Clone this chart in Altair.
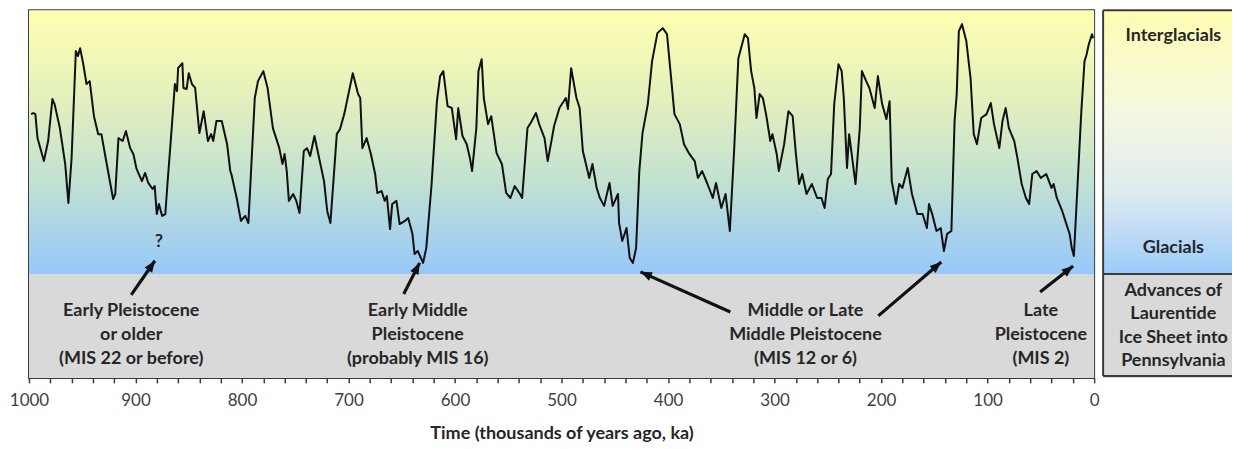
import math
import altair as alt
import pandas as pd

# ---- climate curve (time in ka, relative climate index: 0 = glacial edge, 100 = top) ----
time_ka = [
    998, 996, 994, 992, 986, 982, 978, 976, 971, 966,
    963, 960, 956, 954, 952, 949, 946, 943, 939, 935,
    932, 927, 921, 919, 916, 912, 909, 905, 902, 899,
    894, 891, 888, 884, 882, 880, 878, 875, 872, 870,
    866, 863, 861, 860, 856, 855, 852, 850, 847, 844,
    840, 836, 832, 829, 827, 824, 819, 814, 811, 810,
    805, 801, 797, 794, 788, 785, 780, 776, 771, 765,
    762, 760, 758, 756, 752, 749, 746, 742, 739, 736,
    732, 729, 723, 720, 717, 711, 708, 704, 696, 691,
    689, 687, 683, 679, 675, 673, 669, 666, 664, 661,
    659, 655, 652, 647, 644, 640, 638, 635, 630, 627,
    622, 617, 614, 611, 607, 603, 599, 597, 593, 589,
    586, 584, 580, 578, 575, 573, 569, 566, 561, 556,
    552, 548, 544, 539, 537, 532, 529, 524, 521, 516,
    513, 509, 507, 502, 496, 494, 491, 486, 483, 480,
    474, 471, 467, 464, 460, 455, 452, 447, 446, 443,
    439, 436, 433, 430, 427, 424, 419, 415, 410, 405,
    401, 398, 394, 389, 385, 380, 375, 372, 368, 363,
    358, 355, 350, 346, 342, 338, 334, 328, 325, 322,
    319, 317, 314, 311, 308, 304, 302, 298, 296, 291,
    287, 283, 280, 277, 274, 270, 265, 260, 256, 253,
    250, 247, 244, 240, 237, 235, 232, 230, 224, 220,
    218, 214, 211, 206, 203, 199, 195, 192, 190, 186,
    183, 180, 175, 171, 166, 161, 157, 155, 152, 148,
    144, 141, 138, 134, 131, 129, 127, 124, 120, 116,
    113, 110, 106, 101, 97, 94, 89, 86, 83, 80,
    75, 72, 68, 64, 61, 58, 54, 50, 45, 40,
    38, 35, 30, 26, 23, 21, 19, 16, 12, 9,
    7, 5, 2, 1,
]
climate_index = [
    60.6, 61.0, 60.6, 51.5, 42.8, 50.4, 66.3, 64.4, 55.3, 41.7,
    26.9, 43.9, 84.5, 82.6, 85.6, 79.5, 72.0, 73.1, 59.8, 53.0,
    53.0, 41.7, 28.4, 30.3, 51.5, 50.4, 54.2, 47.7, 45.5, 39.8,
    35.2, 38.3, 34.5, 32.2, 33.3, 22.7, 26.5, 22.0, 22.7, 34.1,
    55.3, 72.0, 69.3, 78.0, 79.9, 70.5, 70.1, 76.1, 72.0, 70.5,
    53.4, 61.7, 50.4, 53.0, 50.4, 58.0, 58.0, 49.2, 39.0, 37.9,
    28.8, 20.1, 22.0, 19.3, 66.7, 73.1, 76.9, 70.5, 55.3, 47.7,
    41.7, 45.5, 39.0, 27.7, 30.3, 27.7, 23.1, 46.6, 47.7, 44.7,
    52.3, 46.6, 35.2, 23.9, 19.3, 53.0, 54.9, 60.6, 76.1, 68.2,
    66.7, 47.7, 51.5, 45.5, 37.9, 30.7, 31.4, 27.7, 29.5, 17.0,
    26.5, 27.7, 18.9, 20.1, 21.2, 15.2, 7.6, 8.7, 4.2, 9.8,
    34.1, 65.5, 75.0, 76.9, 63.6, 62.9, 51.1, 62.9, 52.3, 49.2,
    43.9, 39.0, 55.3, 76.9, 81.4, 66.7, 56.8, 59.8, 45.8, 41.7,
    30.7, 28.8, 33.3, 30.3, 28.8, 55.3, 57.2, 61.0, 56.8, 51.5,
    42.8, 51.5, 56.1, 62.9, 66.7, 62.5, 78.0, 66.7, 62.9, 46.6,
    36.4, 41.7, 32.6, 28.8, 25.8, 34.5, 25.8, 30.3, 19.3, 12.5,
    17.4, 6.1, 4.2, 9.8, 39.0, 53.4, 64.4, 80.7, 91.3, 93.2,
    90.9, 78.0, 60.6, 56.8, 49.2, 45.5, 42.8, 36.4, 39.0, 34.1,
    28.8, 34.5, 25.0, 30.3, 16.3, 46.6, 81.8, 90.9, 89.4, 76.9,
    70.5, 59.1, 68.2, 66.7, 60.6, 50.4, 53.0, 45.5, 39.0, 49.2,
    61.7, 59.8, 45.5, 34.1, 37.9, 30.3, 34.1, 28.8, 28.8, 25.0,
    36.0, 37.9, 64.4, 79.5, 76.9, 66.7, 40.2, 53.0, 34.1, 55.3,
    76.9, 73.1, 70.5, 62.9, 75.0, 64.4, 58.7, 65.5, 35.2, 26.5,
    34.1, 32.6, 40.2, 30.3, 22.7, 22.7, 17.4, 26.5, 22.7, 16.3,
    17.4, 8.7, 15.2, 16.3, 58.0, 68.2, 92.0, 94.7, 88.3, 74.2,
    53.0, 49.2, 59.1, 60.6, 64.8, 56.8, 47.7, 58.0, 62.9, 55.3,
    50.4, 43.9, 34.1, 28.8, 26.5, 37.9, 39.0, 36.4, 37.9, 32.6,
    34.1, 28.8, 23.9, 18.9, 15.2, 9.8, 6.8, 30.3, 61.7, 80.7,
    83.3, 87.1, 90.9, 89.4,
]

# ---- annotations ----
note_lines = ["Early Pleistocene", "or older", "(MIS 22 or before)",
              "Early Middle", "Pleistocene", "(probably MIS 16)",
              "Middle or Late", "Middle Pleistocene", "(MIS 12 or 6)",
              "Late", "Pleistocene", "(MIS 2)"]
note_t = [904, 904, 904, 635, 635, 635, 271, 271, 271, 50, 50, 50]
note_v = [-14.0, -23.1, -32.2] * 4

question_t = [878]
question_v = [12.2]

arrow_tail_t = [904.0, 648.2, 341.5, 202.6, 50.7]
arrow_tail_v = [-7.9, -7.6, -14.4, -15.9, -6.8]
arrow_tip_t = [881.8, 633.2, 425.9, 143.5, 19.7]
arrow_tip_v = [5.0, 4.2, 0.8, 4.5, 3.0]

side_labels = ["Interglacials", "Glacials", "Advances of", "Laurentide",
               "Ice Sheet into", "Pennsylvania"]
side_v = [90.2, 9.8, -6.4, -15.2, -24.2, -33.0]

# ---- layout ----
W, H = 1066, 368
PW = 129
T_DOMAIN = [1000, 0]
V_DOMAIN = [-39.4, 100]
px_per_ka = W / 1000
px_per_v = H / (V_DOMAIN[1] - V_DOMAIN[0])

angles = []
for tt, tv, pt, pv in zip(arrow_tail_t, arrow_tail_v, arrow_tip_t, arrow_tip_v):
    dx = (tt - pt) * px_per_ka
    dy = -(pv - tv) * px_per_v
    angles.append(math.degrees(math.atan2(dx, -dy)) % 360)

curve = pd.DataFrame({"t": time_ka, "v": climate_index})
notes = pd.DataFrame({"t": note_t, "v": note_v, "text": note_lines})
question = pd.DataFrame({"t": question_t, "v": question_v, "text": ["?"]})
arrows = pd.DataFrame({"t": arrow_tail_t, "v": arrow_tail_v,
                       "t2": arrow_tip_t, "v2": arrow_tip_v, "angle": angles})
bands = pd.DataFrame({"t": [1000], "t2": [0], "v": [0], "v2": [100],
                      "g": [V_DOMAIN[0]]})

xscale = alt.Scale(domain=T_DOMAIN, nice=False, zero=False)
yscale = alt.Scale(domain=V_DOMAIN, nice=False, zero=False)

xaxis = alt.Axis(
    values=list(range(0, 1001, 20)),
    labelExpr="datum.value % 100 === 0 ? datum.label : ''",
    format="d", domain=False, grid=False, ticks=True, tickSize=5,
    tickColor="#3c3c3c", tickWidth=1.5,
    labelFont="Lato", labelFontSize=17, labelColor="#404040",
    labelPadding=10, labelOverlap=False, labelFlush=False,
    title="Time (thousands of years ago, ka)", titleFont="Lato",
    titleFontSize=18, titleFontWeight="bold", titleColor="#262626",
    titlePadding=16,
)

BOLD = dict(font="Lato", fontWeight="bold", fontSize=18, color="#262626",
            align="center", baseline="middle")


def X(field):
    return alt.X(f"{field}:Q", scale=xscale, axis=xaxis)


def Y(field):
    return alt.Y(f"{field}:Q", scale=yscale, axis=None)


main_grad = alt.Gradient(
    gradient="linear",
    stops=[alt.GradientStop(color="#FFFFB0", offset=0),
           alt.GradientStop(color="#E2EFBE", offset=0.35),
           alt.GradientStop(color="#C2E1D2", offset=0.65),
           alt.GradientStop(color="#97C8FB", offset=1)],
    x1=0, x2=0, y1=0, y2=1,
)
side_grad = alt.Gradient(
    gradient="linear",
    stops=[alt.GradientStop(color="#FDFDB2", offset=0),
           alt.GradientStop(color="#F5F7E2", offset=0.4),
           alt.GradientStop(color="#DDEAF0", offset=0.7),
           alt.GradientStop(color="#9CCBFA", offset=1)],
    x1=0, x2=0, y1=0, y2=1,
)

grad_rect = alt.Chart(bands).mark_rect(fill=main_grad, strokeWidth=0).encode(
    x=X("t"), x2="t2", y=Y("v"), y2="v2")
gray_rect = alt.Chart(bands).mark_rect(fill="#D9D9D9", strokeWidth=0).encode(
    x=X("t"), x2="t2", y=Y("g"), y2=alt.Y2("v"))
line = alt.Chart(curve).mark_line(color="#111111", strokeWidth=2,
                                  strokeJoin="round").encode(
    x=X("t"), y=Y("v"))
shafts = alt.Chart(arrows).mark_rule(color="#111111", strokeWidth=3.2).encode(
    x=X("t"), x2="t2", y=Y("v"), y2="v2")
heads = alt.Chart(arrows).mark_point(
    shape="M0,0L0.8,2L-0.8,2Z", filled=True, color="#111111",
    size=130, opacity=1, strokeWidth=0).encode(
    x=X("t2"), y=Y("v2"), angle=alt.Angle("angle:Q", scale=None))
note_text = alt.Chart(notes).mark_text(**BOLD).encode(
    x=X("t"), y=Y("v"), text="text:N")
q_text = alt.Chart(question).mark_text(**BOLD).encode(
    x=X("t"), y=Y("v"), text="text:N")

main = alt.layer(grad_rect, gray_rect, line, shafts, heads, note_text,
                 q_text).properties(
    width=W, height=H,
    view=alt.ViewBackground(stroke="#3c3c3c", strokeWidth=2),
)

# ---- side legend panel ----
pscale = alt.Scale(domain=[0, 1], nice=False, zero=False)
side_bands = pd.DataFrame({"a": [0], "b": [1], "v": [0], "v2": [100],
                           "g": [V_DOMAIN[0]]})
side_text = pd.DataFrame({"p": [0.545] * len(side_labels), "v": side_v,
                          "text": side_labels})

s_grad = alt.Chart(side_bands).mark_rect(fill=side_grad, strokeWidth=0).encode(
    x=alt.X("a:Q", scale=pscale, axis=None), x2="b",
    y=Y("v"), y2="v2")
s_gray = alt.Chart(side_bands).mark_rect(fill="#D9D9D9", strokeWidth=0).encode(
    x=alt.X("a:Q", scale=pscale, axis=None), x2="b",
    y=Y("g"), y2=alt.Y2("v"))
s_div = alt.Chart(side_bands).mark_rule(color="#3c3c3c", strokeWidth=2).encode(
    x=alt.value(0), x2=alt.value(PW), y=Y("v"))
s_left = alt.Chart(side_bands).mark_rule(color="#3c3c3c", strokeWidth=2).encode(
    x=alt.value(0), y=alt.value(0), y2=alt.value(H - 2))
s_top = alt.Chart(side_bands).mark_rule(color="#3c3c3c", strokeWidth=2).encode(
    x=alt.value(0), x2=alt.value(PW), y=alt.value(0))
s_bot = alt.Chart(side_bands).mark_rule(color="#3c3c3c", strokeWidth=2).encode(
    x=alt.value(0), x2=alt.value(PW), y=alt.value(H - 2))
s_txt = alt.Chart(side_text).mark_text(**BOLD).encode(
    x=alt.X("p:Q", scale=pscale, axis=None), y=Y("v"), text="text:N")

side = alt.layer(s_grad, s_gray, s_div, s_left, s_top, s_bot, s_txt).properties(
    width=PW, height=H,
    view=alt.ViewBackground(stroke="transparent", strokeWidth=0),
)

chart = alt.hconcat(main, side, spacing=9, bounds="flush").properties(
    padding={"left": 0, "top": 1, "right": 0, "bottom": 0},
).configure(background="white")

chart.save("out.html", embed_options={"renderer": "svg", "actions": False})
